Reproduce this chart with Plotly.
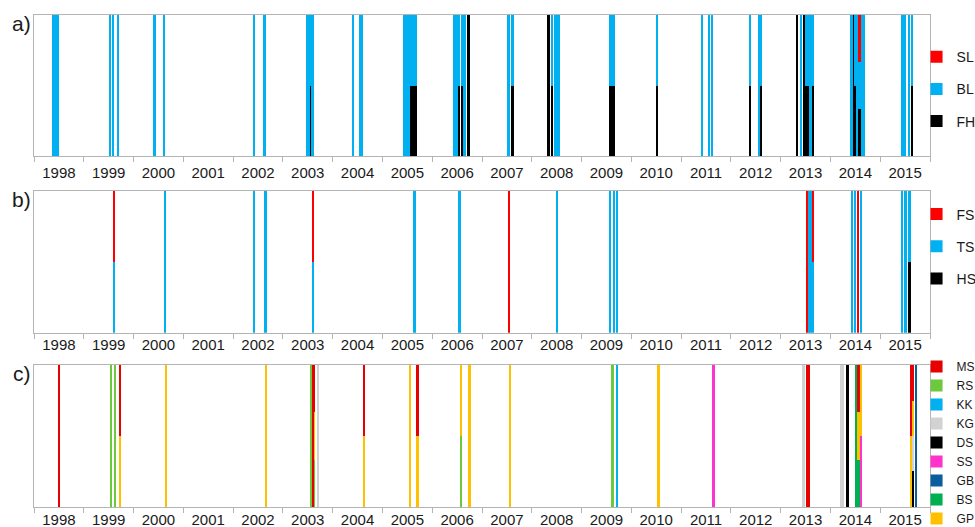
import plotly.graph_objects as go

# ---------------- data (event dates as decimal years) ----------------
YEARS = list(range(1998, 2016))

# panel a)
a_SL = [2014.586]
a_BL = [1998.392, 1998.434, 1998.474, 1999.530, 1999.590, 1999.687, 2000.420, 2000.616,
        2002.418, 2002.633, 2003.484, 2003.520, 2003.562, 2003.594, 2004.406, 2004.550,
        2004.582, 2005.438, 2005.482, 2005.528, 2005.586, 2005.631, 2005.675, 2006.444,
        2006.490, 2006.544, 2006.600, 2006.651, 2007.532, 2007.614, 2008.408, 2008.462,
        2008.508, 2008.552, 2009.572, 2009.614, 2009.657, 2010.514, 2011.414, 2011.554,
        2011.618, 2012.387, 2012.566, 2012.610, 2013.402, 2013.512, 2013.556, 2013.602,
        2013.643, 2014.422, 2014.498, 2014.536, 2014.586, 2014.633, 2014.667, 2015.440,
        2015.490, 2015.582, 2015.636]
a_FH = [2003.562, 2005.586, 2005.631, 2005.675, 2006.544, 2006.600, 2006.729, 2007.614,
        2008.337, 2008.408, 2009.572, 2009.614, 2009.657, 2010.514, 2012.387, 2012.610,
        2013.333, 2013.462, 2013.512, 2013.556, 2013.643, 2014.458, 2014.498, 2014.586,
        2015.636]

# panel b)
b_FS = [1999.602, 2003.598, 2007.548, 2013.522, 2013.643, 2014.556]
b_TS = [1999.602, 2000.631, 2002.424, 2002.649, 2003.598, 2005.641, 2006.550, 2008.506,
        2009.576, 2009.647, 2009.705, 2013.566, 2013.602, 2013.643, 2014.430, 2014.496,
        2014.616, 2015.442, 2015.506, 2015.586]
b_HS = [2015.586]

# panel c)
c_MS = [1998.508, 1999.721, 2003.598, 2003.628, 2004.633, 2005.707, 2013.536, 2013.576,
        2014.562, 2015.614, 2015.656]
c_RS = [1999.546, 1999.620, 2003.566, 2003.628, 2006.578, 2009.622]
c_KK = [2009.711]
c_KG = [2003.703, 2013.458, 2014.209, 2014.259, 2015.656]
c_DS = [2014.341, 2015.656]
c_SS = [2011.651, 2014.612]
c_GB = [2015.715]
c_BS = [2014.520, 2014.562]
c_GP = [1999.721, 2000.651, 2002.665, 2003.628, 2004.633, 2005.556, 2005.707, 2006.578,
        2006.751, 2007.560, 2010.544, 2014.562, 2014.612, 2015.614, 2015.656]

# ---------------- styling ----------------
BAR_W = 0.046
AXC = "#b4b4b4"
FONT = "Liberation Sans, Arial, sans-serif"

fig = go.Figure()


def add(dates, name, color, ax, legend, rank):
    fig.add_trace(go.Bar(
        x=dates, y=[1] * len(dates), width=BAR_W, name=name,
        marker=dict(color=color, line=dict(width=0)),
        xaxis="x" + ax, yaxis="y" + ax, legend=legend,
        legendgroup=name + legend, legendrank=rank, hoverinfo="x+name"))


# stacking order = trace order (bottom first)
add(a_FH, "FH", "#000000", "", "legend", 3)
add(a_BL, "BL", "#00b0f0", "", "legend", 2)
add(a_SL, "SL", "#ff0000", "", "legend", 1)

add(b_HS, "HS", "#000000", "2", "legend2", 3)
add(b_TS, "TS", "#00b0f0", "2", "legend2", 2)
add(b_FS, "FS", "#ff0000", "2", "legend2", 1)

add(c_DS, "DS", "#000000", "3", "legend3", 5)
add(c_SS, "SS", "#ff33cc", "3", "legend3", 6)
add(c_BS, "BS", "#00b050", "3", "legend3", 8)
add(c_RS, "RS", "#6cc83c", "3", "legend3", 2)
add(c_KK, "KK", "#00b0f0", "3", "legend3", 3)
add(c_GB, "GB", "#0b5e9e", "3", "legend3", 7)
add(c_KG, "KG", "#d2d2d2", "3", "legend3", 4)
add(c_GP, "GP", "#ffc000", "3", "legend3", 9)
add(c_MS, "MS", "#e60000", "3", "legend3", 1)


def xax(anchor, standoff):
    return dict(
        range=[1998, 2016], anchor=anchor, domain=[0, 1],
        tickmode="array", tickvals=[y + 0.5 for y in YEARS], ticktext=[str(y) for y in YEARS],
        ticks="", ticklabelstandoff=standoff,
        tickfont=dict(family=FONT, size=15, color="#1a1a1a"),
        showline=True, mirror=True, linecolor=AXC, linewidth=1,
        showgrid=False, zeroline=False, fixedrange=True,
        minor=dict(tickmode="array", tickvals=list(range(1998, 2017)), ticks="outside",
                   ticklen=5, tickcolor=AXC, tickwidth=1, showgrid=False))


def yax(anchor, dom):
    return dict(range=[0, 1], domain=dom, anchor=anchor, showticklabels=False, ticks="",
                showline=True, mirror=True, linecolor=AXC, linewidth=1,
                showgrid=False, zeroline=False, fixedrange=True)


def leg(x, y, size, gap):
    return dict(x=x, y=y, xanchor="left", yanchor="top", bgcolor="rgba(0,0,0,0)",
                font=dict(family=FONT, size=size, color="#1a1a1a"),
                traceorder="grouped", tracegroupgap=gap, itemclick=False, itemdoubleclick=False)


fig.update_layout(
    width=975, height=527,
    margin=dict(l=34, r=45, t=15, b=20, autoexpand=False),
    paper_bgcolor="white", plot_bgcolor="white",
    barmode="stack", barnorm="fraction", bargap=0,
    showlegend=True,
    xaxis=xax("y", 3), yaxis=yax("x", [0.7134, 1.0]),
    xaxis2=xax("y2", -2), yaxis2=yax("x2", [0.3543, 0.6429]),
    xaxis3=xax("y3", -1), yaxis3=yax("x3", [0.0, 0.2886]),
    legend=leg(0.985, 0.947, 14, 11),
    legend2=leg(0.985, 0.627, 14, 11),
    legend3=leg(0.985, 0.315, 12, 0),
    annotations=[
        dict(text=t, x=-0.0134, y=yy, xref="paper", yref="paper", showarrow=False,
             xanchor="center", yanchor="middle", font=dict(family=FONT, size=21, color="#1a1a1a"))
        for t, yy in [("a)", 0.982), ("b)", 0.624), ("c)", 0.272)]
    ],
)

fig.write_html("out.html", config={"displayModeBar": False},
               post_script="document.body.style.margin='0px';")
